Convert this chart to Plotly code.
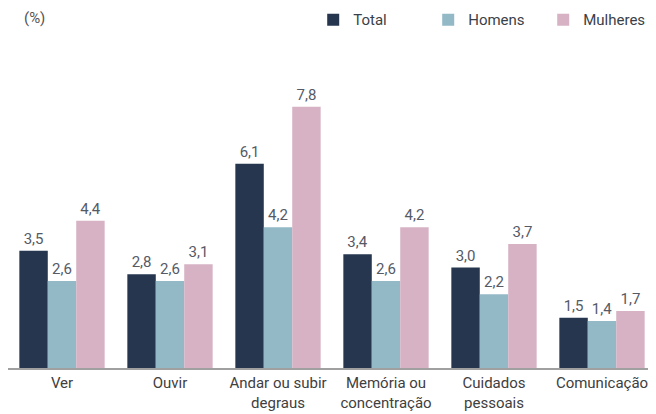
import plotly.graph_objects as go

categories = ["Ver", "Ouvir", "Andar ou subir<br>degraus", "Memória ou<br>concentração", "Cuidados<br>pessoais", "Comunicação"]
total = [3.5, 2.8, 6.1, 3.4, 3.0, 1.5]
homens = [2.6, 2.6, 4.2, 2.6, 2.2, 1.4]
mulheres = [4.4, 3.1, 7.8, 4.2, 3.7, 1.7]

series = [("Total", total, "#26364f"), ("Homens", homens, "#93b8c6"), ("Mulheres", mulheres, "#d6b2c4")]

fig = go.Figure()
for name, vals, col in series:
    fig.add_trace(go.Bar(
        x=categories, y=vals, name=name, marker=dict(color=col, line=dict(width=0)),
        text=[f"{v:.1f}".replace(".", ",") for v in vals], textposition="outside",
        textfont=dict(family="Roboto", size=15, color="#555a66"), cliponaxis=False,
    ))

# page body has an 8px default margin, so the figure is sized to fill the rest of the window
fig.update_layout(
    width=648, height=406, barmode="group", bargap=0.21, bargroupgap=0,
    margin=dict(l=0, r=0, t=0, b=46, autoexpand=False),
    paper_bgcolor="white", plot_bgcolor="white",
    font=dict(family="Roboto", size=15, color="#444"),
    showlegend=True,
    legend=dict(orientation="h", x=0.471, y=0.967, xanchor="left", yanchor="middle",
                font=dict(family="Roboto", size=15, color="#3a3f4a"), itemwidth=30,
                entrywidth=70, entrywidthmode="pixels",
                traceorder="normal", bgcolor="rgba(0,0,0,0)"),
    xaxis=dict(showline=True, linecolor="#a0a0a0", linewidth=2, ticks="", automargin=False,
               tickfont=dict(family="Roboto", size=15, color="#404040")),
    yaxis=dict(visible=False, range=[0, 10.75], domain=[0, 1]),
)
fig.layout.annotations = [dict(text="(%)", x=0.0216, y=0.972, xref="paper", yref="paper", xanchor="left", yanchor="middle",
                               showarrow=False, font=dict(family="Roboto", size=15, color="#555"))]
fig.write_html("out.html")
